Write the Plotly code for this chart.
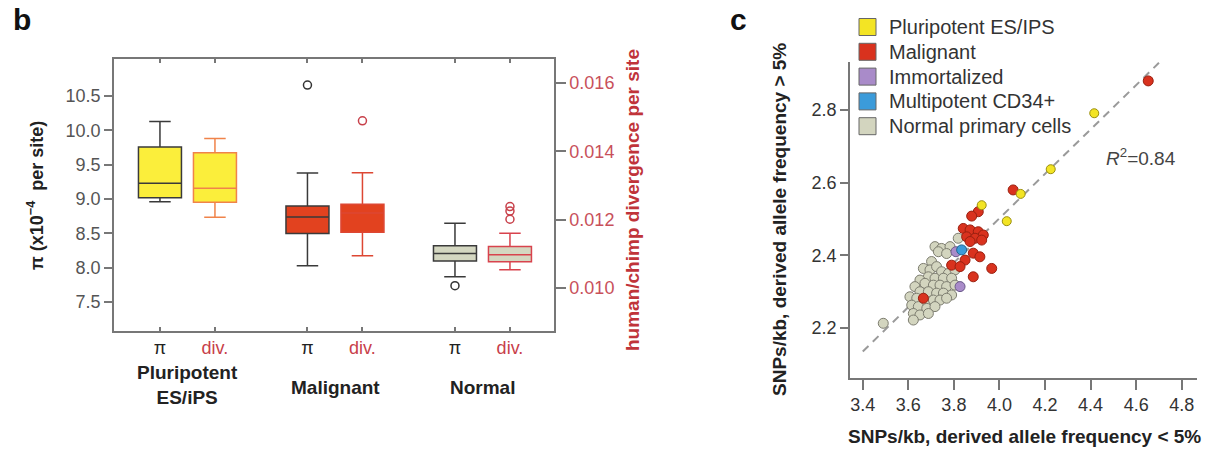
import numpy as np
import plotly.graph_objects as go

W, H = 1218, 450
FONT = "Liberation Sans, Arial, sans-serif"

# ---------------- Panel b data (box plots) ----------------
groups = ["Pluripotent<br>ES/iPS", "Malignant", "Normal"]
measure_labels = ["π", "div."]

pi_q1 = [9.02, 8.50, 8.10]
pi_median = [9.23, 8.74, 8.21]
pi_q3 = [9.76, 8.90, 8.32]
pi_lower = [8.96, 8.03, 7.87]
pi_upper = [10.13, 9.38, 8.65]
pi_outliers = [[], [10.66], [7.74]]

div_q1 = [0.01251, 0.01163, 0.01077]
div_median = [0.01292, 0.01219, 0.01097]
div_q3 = [0.01396, 0.01245, 0.01121]
div_lower = [0.01207, 0.01094, 0.01053]
div_upper = [0.01437, 0.01337, 0.01160]
div_outliers = [[], [0.01489], [0.01238, 0.01225, 0.01201]]

pi_ticks = [7.5, 8.0, 8.5, 9.0, 9.5, 10.0, 10.5]
div_ticks = [0.010, 0.012, 0.014, 0.016]

# ---------------- Panel c data (scatter) ----------------
pluri_x = [4.416, 4.225, 4.093, 4.032, 3.922]
pluri_y = [2.791, 2.637, 2.569, 2.494, 2.538]

malig_x = [4.653, 4.060, 3.907, 3.878, 3.841, 3.871, 3.907, 3.929, 3.856, 3.893,
           3.922, 3.871, 3.885, 3.914, 3.849, 3.790, 3.827, 3.966, 3.885, 3.666]
malig_y = [2.880, 2.580, 2.520, 2.508, 2.474, 2.470, 2.465, 2.456, 2.451, 2.447,
           2.442, 2.438, 2.406, 2.396, 2.387, 2.373, 2.369, 2.364, 2.341, 2.282]

immort_x = [3.809, 3.827]
immort_y = [2.410, 2.314]

multi_x = [3.834]
multi_y = [2.415]

normal_x = [3.717, 3.746, 3.783, 3.732, 3.768, 3.819, 3.702, 3.666, 3.695, 3.724,
            3.746, 3.776, 3.805, 3.688, 3.717, 3.754, 3.790, 3.651, 3.673, 3.710,
            3.739, 3.768, 3.805, 3.629, 3.651, 3.688, 3.724, 3.754, 3.790, 3.607,
            3.637, 3.673, 3.710, 3.739, 3.768, 3.615, 3.644, 3.681, 3.717, 3.622,
            3.651, 3.688, 3.622, 3.490]
normal_y = [2.424, 2.419, 2.424, 2.410, 2.405, 2.447, 2.383, 2.364, 2.360, 2.369,
            2.355, 2.350, 2.360, 2.341, 2.337, 2.337, 2.337, 2.332, 2.323, 2.318,
            2.318, 2.314, 2.318, 2.314, 2.300, 2.300, 2.296, 2.296, 2.291, 2.286,
            2.282, 2.273, 2.277, 2.277, 2.282, 2.263, 2.259, 2.254, 2.259, 2.240,
            2.236, 2.240, 2.222, 2.213]

fit_x_ends = [3.40, 4.70]
fit_intercept = 0.058
fit_slope = 0.611
r2_text = "<i>R</i><sup>2</sup>=0.84"

legend_labels = ["Pluripotent ES/IPS", "Malignant", "Immortalized",
                 "Multipotent CD34+", "Normal primary cells"]

x_ticks_c = [3.4, 3.6, 3.8, 4.0, 4.2, 4.4, 4.6, 4.8]
y_ticks_c = [2.2, 2.4, 2.6, 2.8]

# ---------------- styles ----------------
box_fill = ["#FBEE3B", "#E2421F", "#D4D7C1"]
div_line = ["#F0834A", "#DD4733", "#D8434D"]
pi_line = "#3a3a3a"
div_red = "#C8404A"
col_pluri, col_malig, col_immort, col_multi, col_normal = (
    "#F3E424", "#D9321E", "#A98BC9", "#3B9BDA", "#D3D5BF")
legend_colors = [col_pluri, col_malig, col_immort, col_multi, col_normal]


def px(x):
    return x / W


def py(y):
    return 1 - y / H


fig = go.Figure()

# ---- panel b boxes ----
off = 0.1864
bw = 0.2915
for i in range(len(groups)):
    xp = i - off
    xd = i + off
    fig.add_trace(go.Box(
        x=[xp], q1=[pi_q1[i]], median=[pi_median[i]], q3=[pi_q3[i]],
        lowerfence=[pi_lower[i]], upperfence=[pi_upper[i]],
        width=bw, whiskerwidth=0.5, fillcolor=box_fill[i],
        line=dict(color=pi_line, width=1.5), boxpoints=False,
        xaxis="x", yaxis="y", showlegend=False, hoverinfo="skip"))
    fig.add_trace(go.Box(
        x=[xd], q1=[div_q1[i]], median=[div_median[i]], q3=[div_q3[i]],
        lowerfence=[div_lower[i]], upperfence=[div_upper[i]],
        width=bw, whiskerwidth=0.5, fillcolor=box_fill[i],
        line=dict(color=div_line[i], width=1.5), boxpoints=False,
        xaxis="x", yaxis="y2", showlegend=False, hoverinfo="skip"))
    if pi_outliers[i]:
        fig.add_trace(go.Scatter(
            x=[xp] * len(pi_outliers[i]), y=pi_outliers[i], mode="markers",
            marker=dict(symbol="circle-open", size=8, color="#333",
                        line=dict(width=1.5)),
            xaxis="x", yaxis="y", showlegend=False, hoverinfo="skip"))
    if div_outliers[i]:
        fig.add_trace(go.Scatter(
            x=[xd] * len(div_outliers[i]), y=div_outliers[i], mode="markers",
            marker=dict(symbol="circle-open", size=8, color=div_red,
                        line=dict(width=1.5)),
            xaxis="x", yaxis="y2", showlegend=False, hoverinfo="skip"))

# ---- panel c ----
fx = np.array(fit_x_ends)
fig.add_trace(go.Scatter(
    x=fx, y=fit_intercept + fit_slope * fx, mode="lines",
    line=dict(color="#9a9a9a", width=2, dash="8px,6px"),
    xaxis="x2", yaxis="y3", showlegend=False, hoverinfo="skip"))


def add_pts(xs, ys, color, edge, size=10):
    fig.add_trace(go.Scatter(
        x=xs, y=ys, mode="markers",
        marker=dict(color=color, size=size, line=dict(color=edge, width=1)),
        xaxis="x2", yaxis="y3", showlegend=False, hoverinfo="skip"))


add_pts(normal_x, normal_y, col_normal, "#7d7d70")
add_pts(immort_x, immort_y, col_immort, "#6a5a8a")
add_pts(malig_x, malig_y, col_malig, "#9a2010")
add_pts(multi_x, multi_y, col_multi, "#23658f")
add_pts(pluri_x, pluri_y, col_pluri, "#9a8f10", size=9)

# ---- manual legend ----
shapes = []
annotations = []
leg_y0, leg_dy = 27, 24.8
for k, (lab, c) in enumerate(zip(legend_labels, legend_colors)):
    yc = leg_y0 + k * leg_dy
    shapes.append(dict(type="rect", xref="paper", yref="paper",
                       x0=px(859), x1=px(876), y0=py(yc + 8.5), y1=py(yc - 8.5),
                       fillcolor=c, line=dict(color="#666", width=1)))
    annotations.append(dict(text=lab, xref="paper", yref="paper",
                            x=px(887), y=py(yc), xanchor="left", yanchor="middle",
                            showarrow=False, font=dict(size=20, color="#333")))

# ---- text annotations ----
def ann(text, x, y, size, color="#222", bold=False, angle=0, **kw):
    t = f"<b>{text}</b>" if bold else text
    annotations.append(dict(text=t, xref="paper", yref="paper", x=px(x), y=py(y),
                            xanchor="center", yanchor="middle", showarrow=False,
                            textangle=angle, font=dict(size=size, color=color), **kw))


ann("b", 22, 20, 30, color="#111", bold=True)
ann("c", 738, 20, 30, color="#111", bold=True)
ann("π (x10<sup>−4</sup>  per site)", 36, 196, 18, color="#222", bold=True, angle=-90)
ann("human/chimp divergence per site", 632, 200, 19, color="#C0333A", bold=True, angle=-90)
group_centers_px = [187.5, 335, 482.5]
group_centers_py = [385, 387, 387]
for g, gx, gy in zip(groups, group_centers_px, group_centers_py):
    ann(g, gx, gy, 19, color="#222", bold=True)
ann("SNPs/kb, derived allele frequency &lt; 5%", 1024, 436, 19, color="#222", bold=True)
ann("SNPs/kb, derived allele frequency &gt; 5%", 779, 220, 19, color="#222", bold=True, angle=-90)
ann(r2_text, 1141, 157, 19, color="#444")

tickvals_b = []
ticktext_b = []
for i in range(len(groups)):
    tickvals_b += [i - off, i + off]
    ticktext_b += [f"<span style='color:#222'>{measure_labels[0]}</span>",
                   f"<span style='color:{div_red}'>{measure_labels[1]}</span>"]

axis_common = dict(showgrid=False, zeroline=False, showline=True,
                   linecolor="#777", linewidth=1.5, tickcolor="#777", tickwidth=1.5)

fig.update_layout(
    width=W, height=H,
    margin=dict(l=0, r=0, t=0, b=0),
    paper_bgcolor="white", plot_bgcolor="white",
    font=dict(family=FONT, size=18, color="#333"),
    showlegend=False,
    boxmode="overlay",
    xaxis=dict(domain=[px(114), px(554)], range=[-0.498, 2.485], anchor="y",
               tickmode="array", tickvals=tickvals_b, ticktext=ticktext_b,
               ticks="inside", ticklen=4, mirror="ticks",
               tickfont=dict(size=18), **axis_common),
    yaxis=dict(domain=[py(331), py(59)], range=[7.08, 11.04], anchor="x",
               tickmode="array", tickvals=pi_ticks, tickformat=".1f",
               ticks="outside", ticklen=8,
               tickfont=dict(size=18, color="#555"), **axis_common),
    yaxis2=dict(overlaying="y", side="right", anchor="x",
                range=[0.00874, 0.0167], tickmode="array", tickvals=div_ticks,
                tickformat=".3f", ticks="outside", ticklen=10,
                tickfont=dict(size=18, color="#C8505A"), **axis_common),
    xaxis2=dict(domain=[px(850), px(1197)], range=[3.344, 4.867], anchor="y3",
                tickmode="array", tickvals=x_ticks_c, tickformat=".1f",
                ticks="outside", ticklen=10,
                tickfont=dict(size=18, color="#333"), **axis_common),
    yaxis3=dict(domain=[py(378), py(62)], range=[2.0625, 2.932], anchor="x2",
                tickmode="array", tickvals=y_ticks_c, tickformat=".1f",
                ticks="outside", ticklen=8,
                tickfont=dict(size=18, color="#333"), **axis_common),
    shapes=shapes,
    annotations=annotations,
)

fig.write_html(
    "out.html",
    config={"displayModeBar": False},
    post_script="document.body.style.margin='0';document.body.style.overflow='hidden';",
)
